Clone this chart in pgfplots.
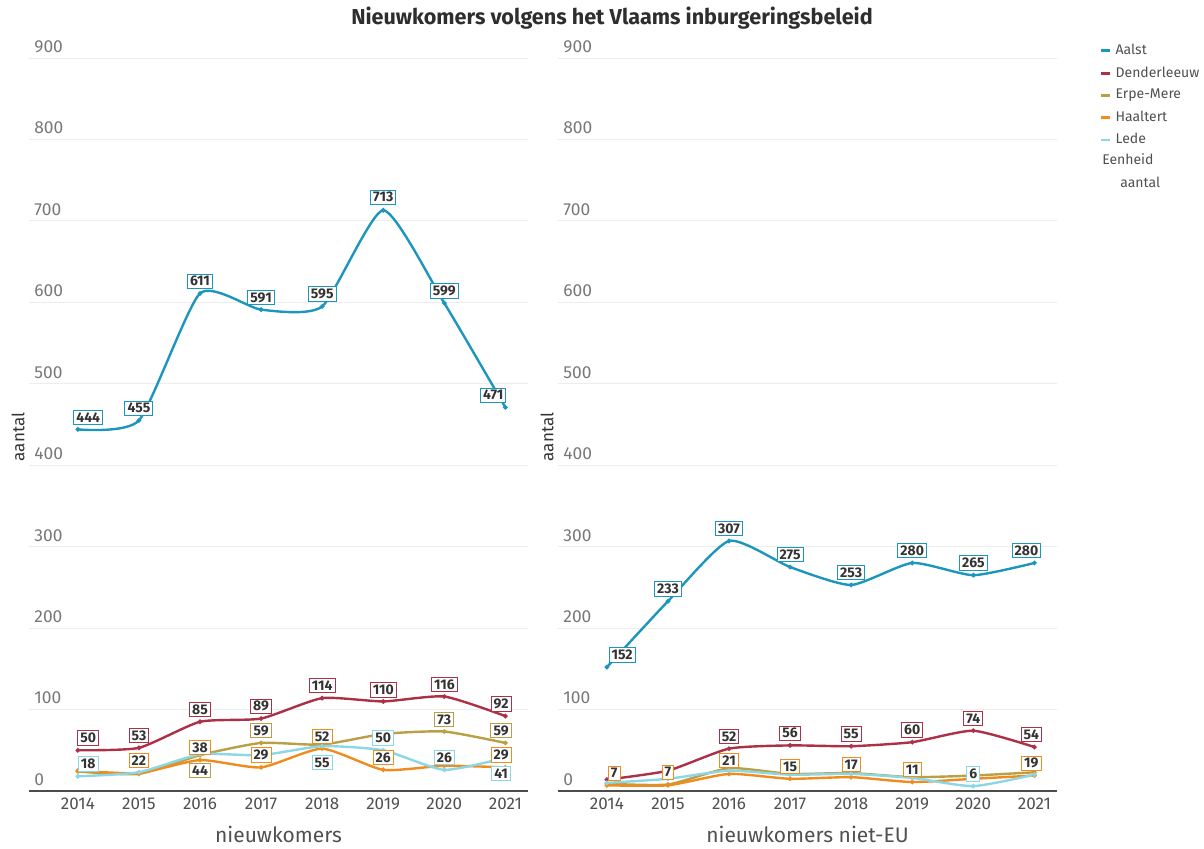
\documentclass[border=0pt]{standalone}
\usepackage{pgfplots}
\pgfplotsset{compat=1.18}
\usepackage{fontspec}
\setmainfont{Fira Sans}
\definecolor{cAalst}{RGB}{28,150,188}
\definecolor{cDend}{RGB}{172,48,70}
\definecolor{cErpe}{RGB}{185,160,70}
\definecolor{cHaal}{RGB}{240,140,30}
\definecolor{cLede}{RGB}{140,215,230}
\definecolor{tick}{RGB}{120,120,120}
\definecolor{dark}{RGB}{80,80,80}
\pgfplotsset{
  panel/.style={
    scale only axis, width=249.5pt, height=366.5pt,
    xmin=2013.2, xmax=2021.37, ymin=0, ymax=900,
    axis x line=bottom, axis y line=left,
    axis line style={-},
    y axis line style={draw=none},
    x axis line style={draw=black!70, line width=0.6pt},
    xtick={2014,...,2021}, ytick={0,100,...,900},
    major tick length=0pt,
    ymajorgrids, grid style={draw=black!7, line width=0.5pt},
    /pgf/number format/.cd, 1000 sep={}, assume math mode=true, /pgfplots/.cd,
    xticklabel style={font=\fontsize{8.5}{10}\selectfont, text=dark},
    yticklabel style={font=\fontsize{8.7}{10}\selectfont, text=tick, anchor=south west, inner sep=2.5pt},
    xlabel style={font=\fontsize{10.5}{12}\selectfont, text=dark, yshift=-1pt},
    ylabel style={font=\fontsize{8.5}{10}\selectfont, text=black!80, at={(axis description cs:0,0.483)}, anchor=south, inner sep=2pt},
    ylabel={aantal},
    clip=false,
  },
  ln/.style={smooth, tension=0.35, line width=1.2pt, mark=*, mark size=0.45pt, mark options={fill=white, draw=none}},
  lbl/.style={forget plot, draw=none, mark=none, nodes near coords, point meta=explicit symbolic,
    nodes near coords style={anchor=center, font=\fontsize{7}{8}\selectfont\bfseries, text=black!80, fill=white, draw=#1, line width=0.5pt, inner xsep=1.3pt, inner ysep=1.1pt}},
}
\begin{document}
\begin{tikzpicture}
\path[use as bounding box] (0,0) rectangle (602pt,424pt);
\node[font=\fontsize{10.8}{12}\selectfont\bfseries, text=black!82] at (306pt,415pt) {Nieuwkomers volgens het Vlaams inburgeringsbeleid};
% ---------- left panel ----------
\begin{axis}[panel, at={(14.5pt,28.5pt)}, anchor=south west, xlabel={nieuwkomers}]
\addplot[ln, cAalst] coordinates {(2014,444)(2015,455)(2016,611)(2017,591)(2018,595)(2019,713)(2020,599)(2021,471)};
\addplot[ln, cDend] coordinates {(2014,50)(2015,53)(2016,85)(2017,89)(2018,114)(2019,110)(2020,116)(2021,92)};
\addplot[ln, cErpe] coordinates {(2014,24)(2015,21)(2016,44)(2017,59)(2018,57)(2019,70)(2020,73)(2021,59)};
\addplot[ln, cHaal] coordinates {(2014,25)(2015,22)(2016,38)(2017,29)(2018,52)(2019,26)(2020,31)(2021,29)};
\addplot[ln, cLede] coordinates {(2014,18)(2015,23)(2016,45)(2017,44)(2018,55)(2019,50)(2020,26)(2021,41)};
\addplot[lbl=cAalst] table[meta=l] {
x y l
2014.17 459 444
2015 470 455
2016 626 611
2017 606 591
2018 610 595
2019 729 713
2020 614 599
2020.8 486 471
};
\addplot[lbl=cDend] table[meta=l] {
x y l
2014.17 65 50
2015 68 53
2016 100 85
2017 104 89
2018 129 114
2019 124 110
2020 131 116
2020.93 107 92
};
\addplot[lbl=cErpe] table[meta=l] {
x y l
2016 25 44
2017 74 59
2020 88 73
2020.93 74 59
};
\addplot[lbl=cHaal] table[meta=l] {
x y l
2015 37 22
2016 53 38
2017 44 29
2018 67 52
2019 41 26
2020.93 44 29
};
\addplot[lbl=cLede] table[meta=l] {
x y l
2014.17 33 18
2018 35 55
2019 65 50
2020 41 26
2020.93 21 41
};
\end{axis}
% ---------- right panel ----------
\begin{axis}[panel, at={(279pt,28.5pt)}, anchor=south west, xlabel={nieuwkomers niet-EU},
  legend style={at={(1.085,1.025)}, anchor=north west, draw=none, fill=none, inner sep=0pt,
    font=\fontsize{7}{8}\selectfont, text=dark, row sep=0.5pt, legend cell align=left},
  legend image code/.code={\draw[line width=1.4pt] (0pt,0pt) -- (4.5pt,0pt);},
  ]
\addplot[ln, cAalst] coordinates {(2014,152)(2015,233)(2016,307)(2017,275)(2018,253)(2019,280)(2020,265)(2021,280)};
\addplot[ln, cDend] coordinates {(2014,14)(2015,25)(2016,52)(2017,56)(2018,55)(2019,60)(2020,74)(2021,54)};
\addplot[ln, cErpe] coordinates {(2014,9)(2015,8)(2016,28)(2017,21)(2018,22)(2019,17)(2020,19)(2021,23)};
\addplot[ln, cHaal] coordinates {(2014,7)(2015,7)(2016,21)(2017,15)(2018,17)(2019,11)(2020,15)(2021,19)};
\addplot[ln, cLede] coordinates {(2014,10)(2015,15)(2016,25)(2017,20)(2018,21)(2019,16)(2020,6)(2021,20)};
\legend{Aalst,Denderleeuw,Erpe-Mere,Haaltert,Lede}
\addplot[lbl=cAalst] table[meta=l] {
x y l
2014.25 167 152
2015 248 233
2016 322 307
2017 290 275
2018 268 253
2019 295 280
2020 280 265
2020.87 295 280
};
\addplot[lbl=cDend] table[meta=l] {
x y l
2016 67 52
2017 71 56
2018 70 55
2019 75 60
2020 89 74
2020.95 69 54
};
\addplot[lbl=cHaal] table[meta=l] {
x y l
2014.12 22 7
2015 23 7
2016 37 21
2017 30 15
2018 32 17
2019 26 11
2020.95 34 19
};
\addplot[lbl=cLede] table[meta=l] {
x y l
2020 21 6
};
\node[anchor=west, inner sep=0pt, font=\fontsize{7}{8}\selectfont, text=dark] at (rel axis cs:1.09,0.862) {Eenheid};
\node[anchor=west, inner sep=0pt, font=\fontsize{7}{8}\selectfont, text=dark] at (rel axis cs:1.126,0.831) {aantal};
\end{axis}
\end{tikzpicture}
\end{document}
